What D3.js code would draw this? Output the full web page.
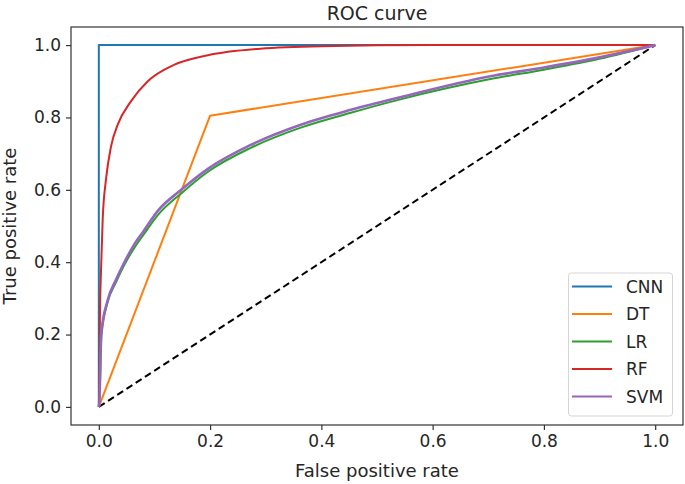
<!DOCTYPE html>
<html>
<head>
<meta charset="utf-8">
<script src="https://cdn.jsdelivr.net/npm/d3@7"></script>
<style>
body{margin:0;background:#fff;}
text{font-family:"DejaVu Sans",sans-serif;fill:#262626;}
</style>
</head>
<body>
<svg id="svg" width="685" height="484"></svg>
<script>
// models in legend order
var models=["CNN","DT","LR","RF","SVM"];
var colours=["#1f77b4","#ff7f0e","#2ca02c","#d62728","#9467bd"];

var cnnFpr=[0,0,1];
var cnnTpr=[0,1,1];

var dtFpr=[0,0.2,1];
var dtTpr=[0,0.805,1];

var lrFpr=[0,0.002,0.005,0.016,0.031,0.045,0.064,0.08,0.106,0.148,0.198,0.273,0.363,0.453,0.542,0.704,0.8,0.9,1];
var lrTpr=[0,0.06,0.2,0.29,0.345,0.39,0.44,0.475,0.53,0.59,0.652,0.716,0.772,0.813,0.85,0.906,0.932,0.962,1];

var rfFpr=[0,0.001,0.002,0.004,0.007,0.013,0.022,0.034,0.058,0.088,0.136,0.196,0.29,0.4,0.6,1];
var rfTpr=[0,0.08,0.25,0.38,0.52,0.63,0.72,0.78,0.845,0.90,0.946,0.972,0.99,0.997,1,1];

var svmFpr=[0,0.001,0.004,0.016,0.031,0.045,0.064,0.08,0.106,0.148,0.198,0.273,0.363,0.453,0.542,0.704,0.8,0.9,1];
var svmTpr=[0,0.01,0.2,0.295,0.352,0.397,0.45,0.485,0.542,0.60,0.66,0.724,0.78,0.821,0.856,0.914,0.938,0.966,1];

var xTicks=[0,0.2,0.4,0.6,0.8,1.0];
var yTicks=[0,0.2,0.4,0.6,0.8,1.0];

function zip(a,b){return a.map(function(d,i){return [d,b[i]];});}
var curves=[zip(cnnFpr,cnnTpr),zip(dtFpr,dtTpr),zip(lrFpr,lrTpr),zip(rfFpr,rfTpr),zip(svmFpr,svmTpr)];
// smooth only the many-threshold curves
var smooth=[false,false,true,true,true];

var svg=d3.select("#svg");
var pLeft=71,pRight=683,pTop=27,pBottom=425;

var x=d3.scaleLinear().domain([-0.05,1.05]).range([pLeft,pRight]);
var y=d3.scaleLinear().domain([-0.05,1.05]).range([pBottom,pTop]);

var line=d3.line().x(function(d){return x(d[0])}).y(function(d){return y(d[1])});
var sline=d3.line().x(function(d){return x(d[0])}).y(function(d){return y(d[1])}).curve(d3.curveMonotoneX);

// chance line
svg.append("path").attr("d",line([[0,0],[1,1]]))
.attr("stroke","#000").attr("stroke-width",2).attr("stroke-dasharray","7,4").attr("fill","none");

svg.selectAll(".curve").data(curves).enter().append("path")
.attr("class","curve")
.attr("d",function(d,i){return smooth[i]?sline(d):line(d)})
.attr("fill","none")
.attr("stroke",function(d,i){return colours[i]})
.attr("stroke-width",function(d,i){return i==4?2.6:2})
.attr("stroke-linejoin","round");

// axes
var xAxis=d3.axisBottom(x).tickValues(xTicks).tickFormat(d3.format(".1f")).tickSize(5).tickPadding(5);
var yAxis=d3.axisLeft(y).tickValues(yTicks).tickFormat(d3.format(".1f")).tickSize(5).tickPadding(5);

var gx=svg.append("g").attr("transform","translate(0,"+pBottom+")").call(xAxis);
var gy=svg.append("g").attr("transform","translate("+pLeft+",0)").call(yAxis);
[gx,gy].forEach(function(g){
    g.select(".domain").remove();
    g.selectAll("line").attr("stroke","#333").attr("stroke-width",1.2);
    g.selectAll("text").attr("font-size","17px").attr("fill","#262626").attr("font-family","DejaVu Sans");
});

svg.append("rect").attr("x",pLeft).attr("y",pTop).attr("width",pRight-pLeft).attr("height",pBottom-pTop)
.attr("fill","none").attr("stroke","#333").attr("stroke-width",1.2);

// legend
var lg=svg.append("g");
lg.append("rect").attr("x",568.5).attr("y",273).attr("width",104).attr("height",143)
.attr("rx",3).attr("fill","#fff").attr("fill-opacity",0.8).attr("stroke","#d5d5d5");
var items=lg.selectAll(".item").data(models).enter().append("g")
.attr("transform",function(d,i){return "translate(0,"+(286.5+27.5*i)+")"});
items.append("line").attr("x1",572).attr("x2",612).attr("y1",0).attr("y2",0)
.attr("stroke",function(d,i){return colours[i]}).attr("stroke-width",2.2);
items.append("text").attr("x",626).attr("y",6).attr("font-size","17px").text(function(d){return d});

svg.append("text").attr("x",(pLeft+pRight)/2).attr("y",20).attr("text-anchor","middle")
.attr("font-size","19px").text("ROC curve");
svg.append("text").attr("x",(pLeft+pRight)/2).attr("y",477).attr("text-anchor","middle")
.attr("font-size","18px").text("False positive rate");
svg.append("text").attr("transform","translate(16,"+((pTop+pBottom)/2)+") rotate(-90)")
.attr("text-anchor","middle").attr("font-size","18px").text("True positive rate");
</script>
</body>
</html>
